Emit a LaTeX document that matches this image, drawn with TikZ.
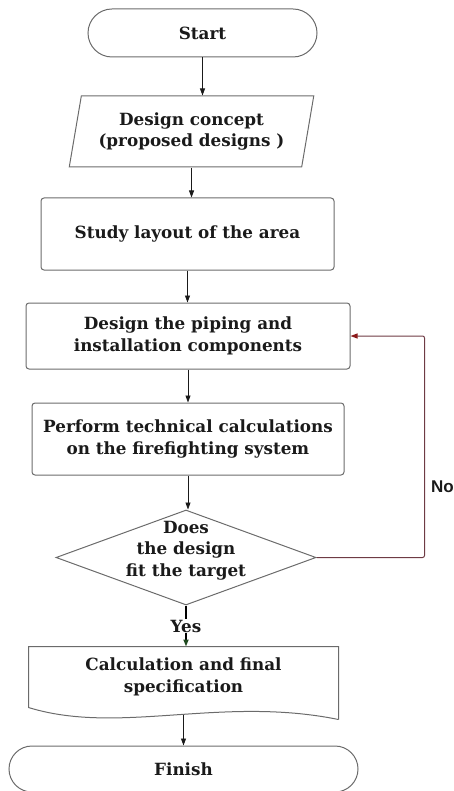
\documentclass[tikz,border=0pt]{standalone}
\usepackage{fontspec}
\setmainfont{DejaVu Serif}
\newfontfamily\labelfont{Liberation Sans}
\usetikzlibrary{arrows.meta, shapes.geometric, calc}
\definecolor{cline}{HTML}{6B6B6B}
\definecolor{cink}{HTML}{1A1A1A}
\definecolor{cloop}{HTML}{6E3B44}
\definecolor{cloophead}{HTML}{8B1A1A}
\definecolor{cyes}{HTML}{1F4A1F}
\tikzset{
  every picture/.style={font=\bfseries\fontsize{16.8}{21.5}\selectfont, line width=1pt},
  terminal/.style={draw=cline, align=center, text=cink, inner sep=0pt},
  process/.style={draw=cline, rounded corners=3pt, align=center, text=cink, inner sep=0pt},
  iobox/.style={trapezium, trapezium left angle=75, trapezium right angle=105, trapezium stretches=true,
    draw=cline, minimum width=245pt, minimum height=71pt, align=center, text=cink, inner sep=0pt},
  decision/.style={diamond, draw=cline, minimum width=260pt, minimum height=95pt, inner sep=0pt},
  docbox/.style={align=center, text=cink, inner sep=0pt, minimum width=309pt, minimum height=60pt},
  arrow/.style={-{Triangle[length=7pt, width=5pt]}, draw=cink, line width=0.8pt},
  yesarrow/.style={-{Triangle[length=7pt, width=5pt, color=cyes]}, draw=black, line width=1.6pt},
  loopback/.style={-{Triangle[length=7pt, width=5pt, color=cloophead]}, draw=cloop, line width=1pt, rounded corners=2pt},
  nolabel/.style={font=\labelfont\bfseries\fontsize{17}{17}\selectfont, text=cink, inner sep=0pt, anchor=west},
}

\begin{document}
\begin{tikzpicture}[x=1pt, y=-1pt]
  \useasboundingbox (0,0) rectangle (454,791);
  \node[terminal, minimum width=229pt, minimum height=48pt, rounded corners=24pt] (start) at (202.5,33) {Start};
  \node[iobox] (concept) at (191.5,131.5) {Design concept\\(proposed designs )};
  \node[process, minimum width=293pt, minimum height=72pt] (layout) at (187.5,234) {Study layout of the area};
  \node[process, minimum width=324pt, minimum height=66pt] (piping) at (188,336) {Design the piping and\\installation components};
  \node[process, minimum width=312pt, minimum height=72pt] (calc) at (188,439) {Perform technical calculations\\on the firefighting system};
  \node[decision] (fit) at (186,557.5) {};
  \node[align=center, text=cink, inner sep=0pt] (fittext) at (186,550.5) {Does\\the design\\fit the target};
  \node[docbox] (spec) at (183.5,677) {Calculation and final\\specification};
  \node[terminal, minimum width=349pt, minimum height=46pt, rounded corners=23pt] (finish) at (183.5,769) {Finish};

  % wavy lower edge of the document shape
  \draw[draw=cline] ($(spec.south east)+(0,12)$) -- (spec.north east) -- (spec.north west) -- (spec.south west)
    .. controls +(91,28) and +(-118,-24) .. ($(spec.south east)+(0,12)$);
  \coordinate (wave) at ($(spec.south)+(0,7)$);

  \draw[arrow] (start.south) -- (start.south |- concept.north);
  \draw[arrow] (concept.south) -- (concept.south |- layout.north);
  \draw[arrow] (layout.south) -- (layout.south |- piping.north);
  \draw[arrow] (piping.south) -- (piping.south |- calc.north);
  \draw[arrow] (calc.south) -- (calc.south |- fit.north);
  \draw[yesarrow] (fit.south) -- node[fill=white, inner sep=1pt, text=cink] {Yes} (fit.south |- spec.north);
  \draw[arrow] (wave) -- (wave |- finish.north);
  \draw[loopback] (fit.east) -- ++(108,0) |- node[pos=0.16, nolabel, xshift=6pt] {No} (piping.east);
\end{tikzpicture}
\end{document}
